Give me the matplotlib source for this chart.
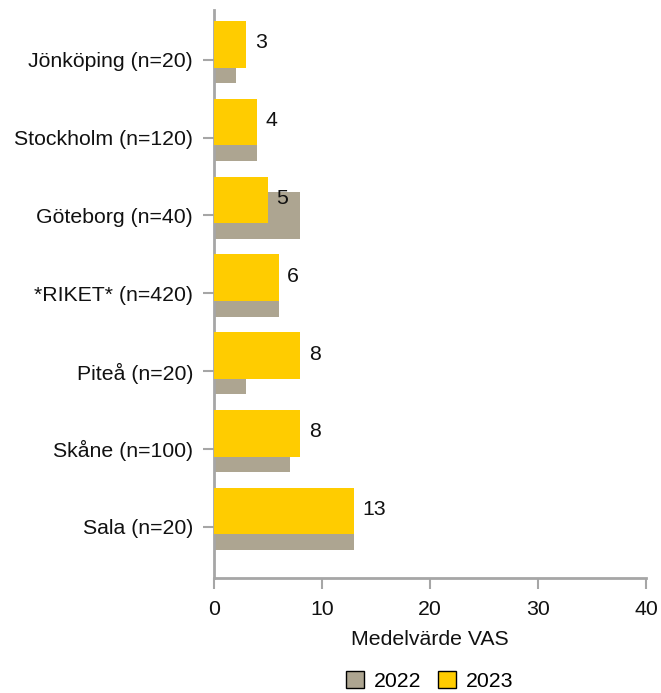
import matplotlib
matplotlib.use("Agg")
import matplotlib.pyplot as plt
from matplotlib.patches import Patch
import numpy as np

plt.rcParams['font.family'] = ['Liberation Sans', 'DejaVu Sans']

categories = ["Sala (n=20)", "Skåne (n=100)", "Piteå (n=20)", "*RIKET* (n=420)",
              "Göteborg (n=40)", "Stockholm (n=120)", "Jönköping (n=20)"]
values_2022 = [13, 7, 3, 6, 8, 4, 2]
values_2023 = [13, 8, 8, 6, 5, 4, 3]
x_ticks = [0, 10, 20, 30, 40]

color_2022 = "#ADA591"
color_2023 = "#FFCC00"
spine_color = "#A6A6A6"
text_color = "#111111"
fs = 15.3

fig = plt.figure(figsize=(6.61, 6.93), dpi=100)
ax = fig.add_axes([0.3238, 0.1659, 0.6536, 0.8197])

y = np.arange(len(categories))
bar_h = 0.6
ax.barh(y, values_2022, height=bar_h, color=color_2022, zorder=2)
ax.barh(y + 0.2, values_2023, height=bar_h, color=color_2023, zorder=3)

for yi, v in zip(y, values_2023):
    ax.annotate(f"{v}", xy=(v, yi + 0.2), xytext=(6, 1), textcoords="offset points",
                va="center", ha="left", fontsize=fs, color=text_color)

ax.set_xlim(0, 40)
ax.set_ylim(-0.66, len(categories) - 1 + 0.64)
ax.set_xticks(x_ticks)
ax.set_yticks(y)
ax.set_yticklabels(categories)
ax.tick_params(axis="both", labelsize=fs, colors=spine_color, labelcolor=text_color,
               length=8, width=1.5)
ax.tick_params(axis="x", pad=8)
ax.tick_params(axis="y", pad=7)

for side in ["top", "right"]:
    ax.spines[side].set_visible(False)
for side in ["left", "bottom"]:
    ax.spines[side].set_color(spine_color)
    ax.spines[side].set_linewidth(2)

ax.set_xlabel("Medelvärde VAS", fontsize=fs, color=text_color, labelpad=8)

handles = [Patch(facecolor=color_2022, edgecolor="black", linewidth=1, label="2022"),
           Patch(facecolor=color_2023, edgecolor="black", linewidth=1, label="2023")]
fig.legend(handles=handles, loc="lower center", bbox_to_anchor=(0.65, -0.024), ncol=2,
           frameon=False, fontsize=fs, handlelength=0.85, handleheight=0.85,
           handletextpad=0.45, columnspacing=0.8)

fig.savefig("out.png", dpi=100)
